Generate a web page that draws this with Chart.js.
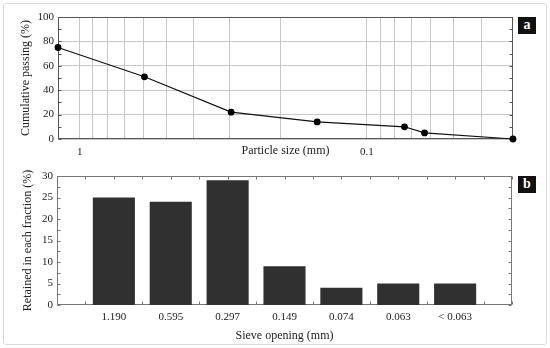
<!DOCTYPE html>
<html>
<head>
<meta charset="utf-8">
<script src="https://cdn.jsdelivr.net/npm/chart.js@4"></script>
<style>
    body { margin: 0; background: #fff; }
    #frame { position: absolute; left: 3px; top: 3px; width: 542px; height: 340px; border: 1px solid #dcdcdc; border-radius: 3px; }
    .box { position: absolute; left: 0; width: 550px; }
    #topBox { top: 0; height: 160px; }
    #bottomBox { top: 160px; height: 188px; }
    .tag { position: absolute; left: 518px; width: 18px; height: 17px; background: #111; color: #fff;
           font: bold 14px "Liberation Serif", serif; text-align: center; line-height: 16px; }
</style>
</head>
<body>
<div id="frame"></div>
<div class="box" id="topBox"><canvas id="passing"></canvas></div>
<div class="box" id="bottomBox"><canvas id="retained"></canvas></div>
<div class="tag" style="top:17px">a</div>
<div class="tag" style="top:176px">b</div>
<script>
// top panel: cumulative passing vs particle size
const particleSizes = [1.19, 0.595, 0.297, 0.149, 0.074, 0.063, 0.031];
const cumulativePassing = [75, 51, 22, 14, 10, 5, 0];
const sizeGrid = [1, 0.9, 0.8, 0.7, 0.6, 0.5, 0.4, 0.3, 0.2, 0.1, 0.09, 0.08, 0.07, 0.06, 0.05, 0.04];
const sizeTickLabels = ['1', '0.1'];
const passingTicks = [0, 20, 40, 60, 80, 100];

// bottom panel: retained in each fraction
const sieveOpenings = ['', '1.190', '0.595', '0.297', '0.149', '0.074', '0.063', '< 0.063', ''];
const retainedPercent = [null, 25, 24, 29, 9, 4, 5, 5, null];
const retainedTicks = [0, 5, 10, 15, 20, 25, 30];

Chart.defaults.font.family = '"Liberation Serif", serif';
Chart.defaults.font.size = 11;
Chart.defaults.color = '#222';

// box around the plot area plus small inward ticks
const framePlugin = {
    id: 'frame',
    beforeDatasetsDraw(chart, args, opts) {
        const {ctx, chartArea: a} = chart;
        const l = Math.round(a.left) + 0.5, r = Math.round(a.right) - 0.5;
        const t = Math.round(a.top) + 0.5, b = Math.round(a.bottom) - 0.5;
        ctx.save();
        ctx.strokeStyle = opts.color;
        ctx.lineWidth = 1;
        ctx.strokeRect(l, t, r - l, b - t);
        ctx.beginPath();
        (opts.yMinor || []).forEach(v => {
            const y = Math.round(chart.scales.y.getPixelForValue(v)) + 0.5;
            ctx.moveTo(l, y); ctx.lineTo(l + 3, y);
            ctx.moveTo(r, y); ctx.lineTo(r - 3, y);
        });
        (opts.xMinor || []).forEach(v => {
            const x = Math.round(chart.scales.x.getPixelForValue(v)) + 0.5;
            ctx.moveTo(x, t); ctx.lineTo(x, t + 3);
            ctx.moveTo(x, b); ctx.lineTo(x, b - 3);
        });
        ctx.stroke();
        ctx.restore();
    }
};

function steps(from, to, step) {
    const out = [];
    for (let v = from; v <= to + 1e-9; v += step) out.push(v);
    return out;
}

new Chart(document.getElementById('passing'), {
    type: 'line',
    data: {
        datasets: [{
            data: particleSizes.map((x, i) => ({x: x, y: cumulativePassing[i]})),
            borderColor: '#111',
            borderWidth: 1.2,
            pointBackgroundColor: '#000',
            pointBorderColor: '#000',
            pointRadius: 2.8,
            tension: 0,
            clip: false
        }]
    },
    options: {
        responsive: true,
        maintainAspectRatio: false,
        animation: false,
        layout: { padding: { top: 17, right: 37, left: 0, bottom: 0 } },
        plugins: {
            legend: { display: false },
            tooltip: { enabled: false },
            frame: { color: '#555', yMinor: steps(0, 100, 10) }
        },
        scales: {
            x: {
                type: 'logarithmic',
                reverse: true,
                min: 0.031,
                max: 1.19,
                afterBuildTicks: scale => { scale.ticks = sizeGrid.map(v => ({value: v})); },
                afterFit: scale => { scale.height = 21; },
                ticks: {
                    autoSkip: false,
                    maxRotation: 0,
                    padding: 7,
                    callback: v => sizeTickLabels.includes(String(v)) ? String(v) : ''
                },
                grid: { color: '#c8c8c8', drawTicks: false },
                border: { display: false },
                title: { display: true, text: 'Particle size (mm)', font: { size: 12 }, padding: { top: 0, bottom: 2 } }
            },
            y: {
                min: 0,
                max: 100,
                afterBuildTicks: scale => { scale.ticks = passingTicks.map(v => ({value: v})); },
                afterFit: scale => { scale.width = 58; },
                ticks: { padding: 4 },
                grid: { color: '#c8c8c8', drawTicks: false },
                border: { display: false },
                title: { display: true, text: 'Cumulative passing (%)', font: { size: 12 }, padding: { top: 19, bottom: 0 } }
            }
        }
    },
    plugins: [framePlugin]
});

new Chart(document.getElementById('retained'), {
    type: 'bar',
    data: {
        labels: sieveOpenings,
        datasets: [{
            data: retainedPercent,
            backgroundColor: '#303030',
            barPercentage: 0.74,
            categoryPercentage: 1
        }]
    },
    options: {
        responsive: true,
        maintainAspectRatio: false,
        animation: false,
        layout: { padding: { top: 16, right: 38, left: 0, bottom: 0 } },
        plugins: {
            legend: { display: false },
            tooltip: { enabled: false },
            frame: { color: '#777', yMinor: steps(0, 30, 2.5), xMinor: steps(0, 8, 0.5) }
        },
        scales: {
            x: {
                offset: false,
                afterFit: scale => { scale.height = 43; },
                ticks: { autoSkip: false, maxRotation: 0, padding: 6 },
                grid: { display: false, drawTicks: false },
                border: { display: false },
                title: { display: true, text: 'Sieve opening (mm)', font: { size: 12 }, padding: { top: 0, bottom: 5 } }
            },
            y: {
                min: 0,
                max: 30,
                afterBuildTicks: scale => { scale.ticks = retainedTicks.map(v => ({value: v})); },
                afterFit: scale => { scale.width = 57; },
                ticks: { padding: 4 },
                grid: { display: false, drawTicks: false },
                border: { display: false },
                title: { display: true, text: 'Retained in each fraction (%)', font: { size: 12 }, padding: { top: 21, bottom: 0 } }
            }
        }
    },
    plugins: [framePlugin]
});
</script>
</body>
</html>
